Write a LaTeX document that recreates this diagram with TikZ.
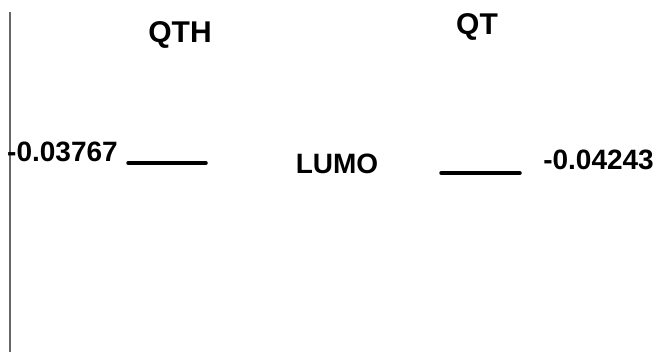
\documentclass[tikz,border=0pt]{standalone}
\usepackage{fontspec}
\setmainfont{Liberation Sans}
\begin{document}
\begin{tikzpicture}[x=1pt,y=-1pt,
  lbl/.style={font=\fontsize{28}{30}\selectfont\bfseries, inner sep=0pt},
  ttl/.style={font=\fontsize{30}{32}\selectfont\bfseries, inner sep=0pt},
  level/.style={line width=3.5pt, line cap=round}]
\useasboundingbox (0,0) rectangle (656,352);
\coordinate (axtop) at (10,12);
\coordinate (axbot) at (10,352);
\draw[gray!80!black, line width=1.5pt] (axtop) -- (axbot);
\node[ttl] (qth) at (180,35) {QTH};
\node[ttl] (qt) at (477,27) {QT};
\node[lbl, anchor=west] (v1) at (7,152) {-0.03767};
\coordinate (l1a) at (128,163);
\coordinate (l1b) at (206,163);
\draw[level] (l1a) -- (l1b);
\node[lbl] (lumo) at (337,164) {LUMO};
\coordinate (l2a) at (441,173);
\coordinate (l2b) at (520,173);
\draw[level] (l2a) -- (l2b);
\node[lbl, anchor=east] (v2) at (654,160) {-0.04243};
\end{tikzpicture}
\end{document}
